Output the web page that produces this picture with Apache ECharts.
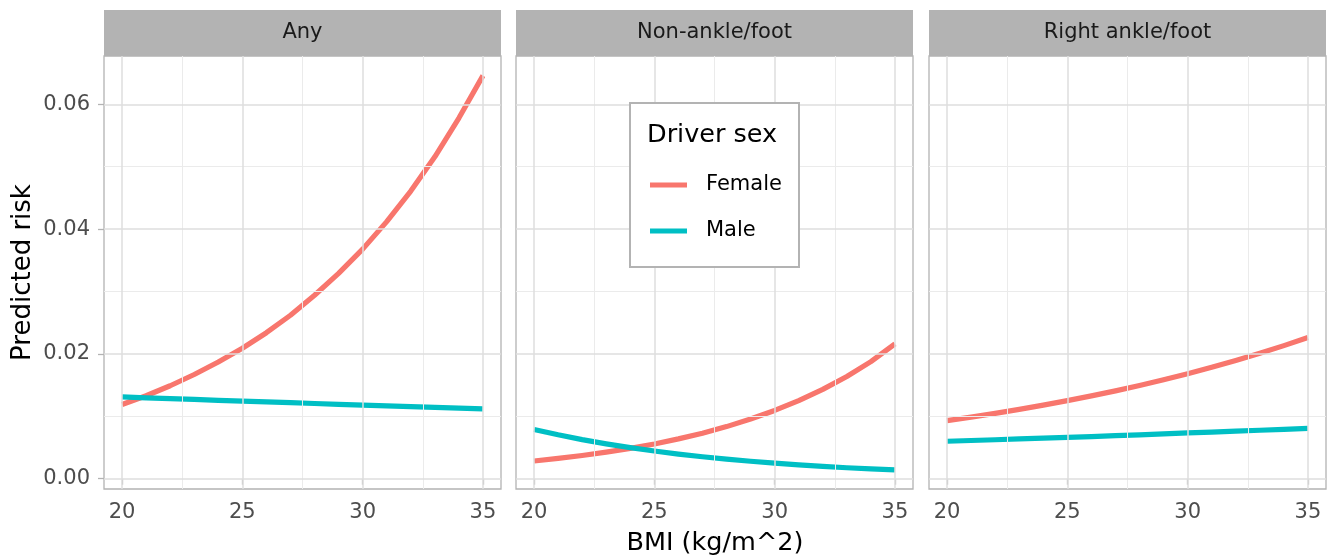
<!DOCTYPE html>
<html>
<head>
<meta charset="utf-8">
<script src="https://cdn.jsdelivr.net/npm/echarts@6/dist/echarts.min.js"></script>
<style>html,body{margin:0;padding:0;background:#fff;}#chart{width:1331px;height:558px;}</style>
</head>
<body>
<div id="chart"></div>
<script>
// ---- data ----
const bmi = [20,21,22,23,24,25,26,27,28,29,30,31,32,33,34,35];
const panels = ['Any', 'Non-ankle/foot', 'Right ankle/foot'];
const sexes = ['Female', 'Male'];
const anyFemale   = [0.0119,0.0133,0.0149,0.0167,0.0187,0.0209,0.0234,0.0262,0.0294,0.0329,0.0368,0.0412,0.0461,0.0516,0.0578,0.0646];
const anyMale     = [0.01310,0.01297,0.01284,0.01270,0.01257,0.01244,0.01231,0.01218,0.01205,0.01192,0.01180,0.01168,0.01156,0.01144,0.01132,0.01120];
const nonFemale   = [0.00284,0.00325,0.00372,0.00426,0.00487,0.00557,0.00638,0.0073,0.00835,0.00956,0.01094,0.01252,0.01432,0.01639,0.01876,0.02160];
const nonMale     = [0.0079,0.00704,0.00627,0.00559,0.00498,0.00444,0.00395,0.00352,0.00314,0.0028,0.00249,0.00222,0.00198,0.00176,0.00157,0.0014];
const rightFemale = [0.0093,0.00987,0.01047,0.01111,0.01179,0.01251,0.01327,0.01408,0.01494,0.01585,0.01682,0.01785,0.01894,0.0201,0.02133,0.02263];
const rightMale   = [0.0060,0.00612,0.00624,0.00637,0.0065,0.00663,0.00676,0.0069,0.00704,0.00718,0.00733,0.00747,0.00762,0.00777,0.00792,0.00808];
const xTicks = [20,25,30,35];
const xMinor = [22.5,27.5,32.5];
const yTicks = [0,0.02,0.04,0.06];
const yMinor = [0.01,0.03,0.05];
const xRange = [19.25, 35.75];
const yRange = [-0.00165, 0.06775];

// ---- styling / layout ----
const FONT = '"DejaVu Sans", sans-serif';
const COLORS = {Female:'#F8766D', Male:'#00BFC4'};
const panelLefts = [104, 516, 929];
const panelW = 397, panelTop = 56, panelH = 433;
const values = [[anyFemale, anyMale],[nonFemale, nonMale],[rightFemale, rightMale]];

const grid = [], xAxis = [], yAxis = [], series = [], graphics = [];
panels.forEach((p, i) => {
  grid.push({left: panelLefts[i], top: panelTop, width: panelW, height: panelH, show: true,
    borderColor: '#B3B3B3', borderWidth: 1.3, backgroundColor: '#fff', outerBoundsMode: 'none'});
  xAxis.push({gridIndex: i, type: 'value', min: xRange[0], max: xRange[1],
    axisLine: {show: false}, splitLine: {show: false},
    axisTick: {show: true, customValues: xTicks, length: 6, lineStyle: {color: '#B3B3B3', width: 1.3}},
    axisLabel: {customValues: xTicks, margin: 13, fontSize: 21, color: '#4D4D4D', fontFamily: FONT}});
  yAxis.push({gridIndex: i, type: 'value', min: yRange[0], max: yRange[1],
    axisLine: {show: false}, splitLine: {show: false},
    axisTick: {show: i === 0, customValues: yTicks, length: 6, lineStyle: {color: '#B3B3B3', width: 1.3}},
    axisLabel: {show: i === 0, customValues: yTicks, margin: 14, fontSize: 21, color: '#4D4D4D', fontFamily: FONT,
      formatter: v => v.toFixed(2)}});
  const ml = [];
  xMinor.forEach(v => ml.push({xAxis: v, lineStyle: {color: '#EBEBEB', width: 1}}));
  yMinor.forEach(v => ml.push({yAxis: v, lineStyle: {color: '#EBEBEB', width: 1}}));
  xTicks.forEach(v => ml.push({xAxis: v, lineStyle: {color: '#DEDEDE', width: 1.5}}));
  yTicks.forEach(v => ml.push({yAxis: v, lineStyle: {color: '#DEDEDE', width: 1.5}}));
  series.push({type: 'line', name: 'grid' + i, xAxisIndex: i, yAxisIndex: i, data: [], z: 1,
    markLine: {silent: true, symbol: ['none', 'none'], label: {show: false}, animation: false,
      lineStyle: {type: 'solid'}, emphasis: {disabled: true}, data: ml}});
  sexes.forEach((s, k) => {
    series.push({type: 'line', name: s, xAxisIndex: i, yAxisIndex: i, z: 3,
      data: bmi.map((b, j) => [b, values[i][k][j]]),
      showSymbol: false, symbol: 'none', smooth: false,
      lineStyle: {color: COLORS[s], width: 5.2, cap: 'butt', join: 'round'},
      itemStyle: {color: COLORS[s]}, emphasis: {disabled: true}});
  });
  graphics.push({type: 'rect', shape: {x: panelLefts[i], y: 10, width: panelW, height: panelTop - 10},
    style: {fill: '#B3B3B3'}, z: 5});
  graphics.push({type: 'text', x: panelLefts[i] + panelW / 2, y: 33, z: 6,
    style: {text: p, fill: '#1A1A1A', font: '21px ' + FONT, textAlign: 'center', textVerticalAlign: 'middle'}});
});

// axis titles
graphics.push({type: 'text', x: 23, y: 272.5, rotation: Math.PI / 2, z: 6,
  style: {text: 'Predicted risk', fill: '#000', font: '26px ' + FONT, textAlign: 'center', textVerticalAlign: 'middle'}});
graphics.push({type: 'text', x: 715, y: 543, z: 6,
  style: {text: 'BMI (kg/m^2)', fill: '#000', font: '25.5px ' + FONT, textAlign: 'center', textVerticalAlign: 'middle'}});
// legend box + title
graphics.push({type: 'rect', shape: {x: 630, y: 103, width: 169, height: 164},
  style: {fill: '#fff', stroke: '#B3B3B3', lineWidth: 2}, z: 10});
graphics.push({type: 'text', x: 647, y: 135, z: 11,
  style: {text: 'Driver sex', fill: '#000', font: '25.5px ' + FONT, textAlign: 'left', textVerticalAlign: 'middle'}});

const option = {
  animation: false,
  backgroundColor: '#fff',
  grid, xAxis, yAxis, series,
  legend: {data: sexes, orient: 'vertical', left: 650, top: 172, padding: 0, itemGap: 20,
    itemWidth: 37, itemHeight: 5, icon: 'rect', z: 20, selectedMode: false,
    textStyle: {fontSize: 21, color: '#000', fontFamily: FONT, lineHeight: 26, padding: [0, 0, 0, 14]}},
  graphic: {elements: graphics}
};
const chart = echarts.init(document.getElementById('chart'), null, {renderer: 'canvas'});
chart.setOption(option);
</script>
</body>
</html>
